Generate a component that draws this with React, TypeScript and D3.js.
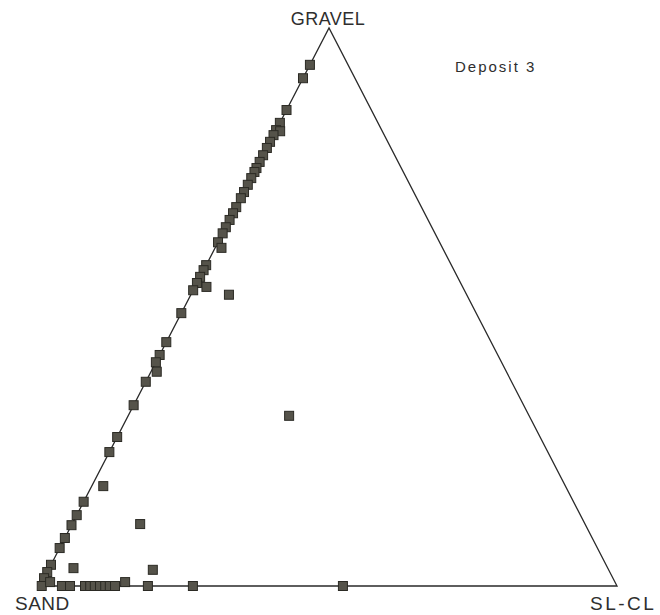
import React, { useRef, useEffect } from "react";
import * as d3 from "d3";

// ternary composition of each sample, in percent
const gravel = [
  93.4, 91.0, 85.3, 83.0, 81.7, 81.5, 80.8, 79.6, 78.5, 77.2, 76.0, 74.9, 74.2,
  73.1, 71.9, 70.6, 69.5, 67.9, 66.8, 65.6, 64.3, 63.2, 61.6, 60.6, 57.5, 56.6,
  55.4, 54.3, 53.6, 53.0, 52.2, 48.9, 43.7, 41.4, 40.1, 38.4, 36.6, 32.4, 30.5,
  26.7, 24.0, 17.9, 15.1, 12.7, 10.9, 11.1, 8.6, 6.8, 3.8, 2.5, 3.2, 2.9, 1.4,
  0, 0.7, 0, 0, 0, 0, 0, 0, 0, 0, 0, 0.7, 0, 0, 0,
];
const siltClay = [
  0, 0, 0, 0, 0, 0.8, 0, 0, 0, 0, 0, 0, 0, 0, 0, 0, 0, 0, 0, 0, 0, 0, 0, 1.1, 0,
  0, 0, 0, 2.0, 0, 6.6, 0, 0, 0, 0, 1.0, 0, 0, 27.9, 0, 0, 2.0, 0, 0, 0, 11.8, 0,
  0, 0, 0, 4.2, 18.1, 0, 0.3, 1.4, 3.8, 5.2, 7.8, 8.7, 9.5, 10.4, 11.3, 12.1,
  13.0, 14.4, 18.7, 26.5, 52.5,
];
const sand = [
  6.6, 9.0, 14.7, 17.0, 18.3, 17.7, 19.2, 20.4, 21.5, 22.8, 24.0, 25.1, 25.8,
  26.9, 28.1, 29.4, 30.5, 32.1, 33.2, 34.4, 35.7, 36.8, 38.4, 38.3, 42.5, 43.4,
  44.6, 45.7, 44.4, 47.0, 41.2, 51.1, 56.3, 58.6, 59.9, 60.6, 63.4, 67.6, 41.6,
  73.3, 76.0, 80.1, 84.9, 87.3, 89.1, 77.1, 91.4, 93.2, 96.2, 97.5, 92.6, 79.0,
  98.6, 99.7, 97.9, 96.2, 94.8, 92.2, 91.3, 90.5, 89.6, 88.7, 87.9, 87.0, 84.9,
  81.3, 73.5, 47.5,
];

const title = "Deposit 3";

function App() {
  const svgRef = useRef(null);

  useEffect(() => {
    const width = 660,
      height = 615;
    const left = 40,
      right = 617,
      bottom = 586,
      top = 28,
      apexX = 329;

    const svg = d3.select(svgRef.current);
    svg.selectAll("*").remove();

    svg
      .append("rect")
      .attr("width", width)
      .attr("height", height)
      .attr("fill", "#fff");

    // gravel goes up, silt-clay goes right along the base
    const g = d3.scaleLinear().domain([0, 100]).range([0, 1]);
    const yGravel = d3.scaleLinear().domain([0, 100]).range([bottom, top]);
    const xBase = d3.scaleLinear().domain([0, 100]).range([0, right - left]);

    const project = (s, gr, c) => {
      const t = s + gr + c;
      const gn = (gr / t) * 100,
        cn = (c / t) * 100;
      return [left + g(gn) * (apexX - left) + xBase(cn), yGravel(gn)];
    };

    const corners = [
      project(100, 0, 0),
      project(0, 0, 100),
      project(0, 100, 0),
    ];

    svg
      .append("path")
      .attr("d", d3.line()(corners) + "Z")
      .attr("fill", "none")
      .attr("stroke", "#2a2a2a")
      .attr("stroke-width", 1.3);

    const pts = sand.map((s, i) => project(s, gravel[i], siltClay[i]));
    const size = 9;

    svg
      .append("g")
      .selectAll("rect")
      .data(pts)
      .join("rect")
      .attr("x", (d) => d[0] - size / 2)
      .attr("y", (d) => d[1] - size / 2)
      .attr("width", size)
      .attr("height", size)
      .attr("fill", "#55534a")
      .attr("stroke", "#2b2a24")
      .attr("stroke-width", 1);

    const font = "'Liberation Sans', Arial, sans-serif";

    svg
      .append("text")
      .attr("x", corners[2][0] - 1)
      .attr("y", 25)
      .attr("text-anchor", "middle")
      .attr("font-family", font)
      .attr("font-size", 18)
      .attr("letter-spacing", 0.5)
      .attr("fill", "#2e2e2e")
      .text("GRAVEL");

    svg
      .append("text")
      .attr("x", 15)
      .attr("y", 610)
      .attr("font-family", font)
      .attr("font-size", 19)
      .attr("letter-spacing", 0.5)
      .attr("fill", "#2e2e2e")
      .text("SAND");

    svg
      .append("text")
      .attr("x", 590)
      .attr("y", 610)
      .attr("font-family", font)
      .attr("font-size", 19)
      .attr("letter-spacing", 2.5)
      .attr("fill", "#2e2e2e")
      .text("SL-CL");

    svg
      .append("text")
      .attr("x", 455)
      .attr("y", 72)
      .attr("font-family", font)
      .attr("font-size", 15)
      .attr("letter-spacing", 2)
      .attr("fill", "#2e2e2e")
      .text(title);
  }, []);

  return (
    <svg
      ref={svgRef}
      width={660}
      height={615}
      style={{ position: "absolute", left: 0, top: 0, display: "block" }}
    ></svg>
  );
}

export default App;
